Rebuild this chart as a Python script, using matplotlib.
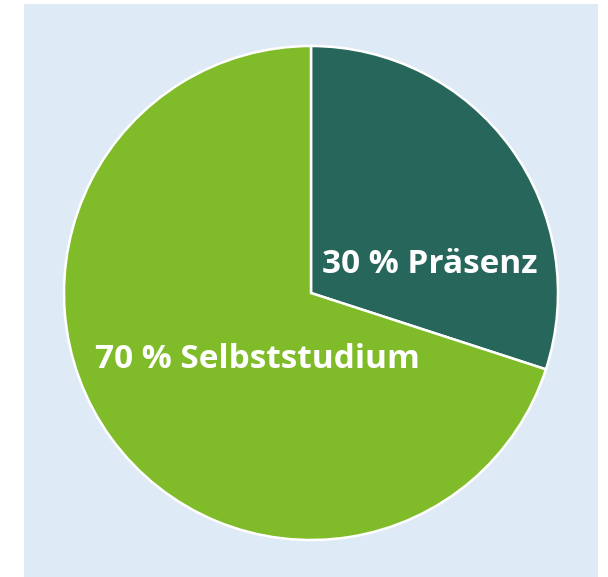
import matplotlib.pyplot as plt
from matplotlib.patches import Rectangle

# Anteile
labels = ['30 % Präsenz', '70 % Selbststudium']
values = [30, 70]
colors = ['#27665a', '#80bb2a']

W, H = 608, 577
fig = plt.figure(figsize=(W / 100, H / 100), dpi=100, facecolor='white')

# hellblauer Hintergrund
fig.patches.append(Rectangle((24 / W, 0), (598 - 24) / W, (577 - 4) / H,
                             transform=fig.transFigure, facecolor='#deeaf5',
                             edgecolor='none', zorder=-10))

cx, cy, r = 311, 577 - 293, 247
ax = fig.add_axes([(cx - r) / W, (cy - r) / H, 2 * r / W, 2 * r / H])
ax.set_facecolor('none')
ax.pie(values, colors=colors, startangle=90, counterclock=False, radius=1,
       wedgeprops=dict(edgecolor='white', linewidth=1.8))
ax.set_xlim(-1, 1)
ax.set_ylim(-1, 1)
ax.set_aspect('equal')
ax.axis('off')

ax.text(0.482, 0.114, labels[0], color='white', fontsize=24, fontweight='bold',
        family='Open Sans', ha='center', va='center')
ax.text(-0.215, -0.271, labels[1], color='white', fontsize=24, fontweight='bold',
        family='Open Sans', ha='center', va='center')

fig.savefig('out.png', dpi=100)
